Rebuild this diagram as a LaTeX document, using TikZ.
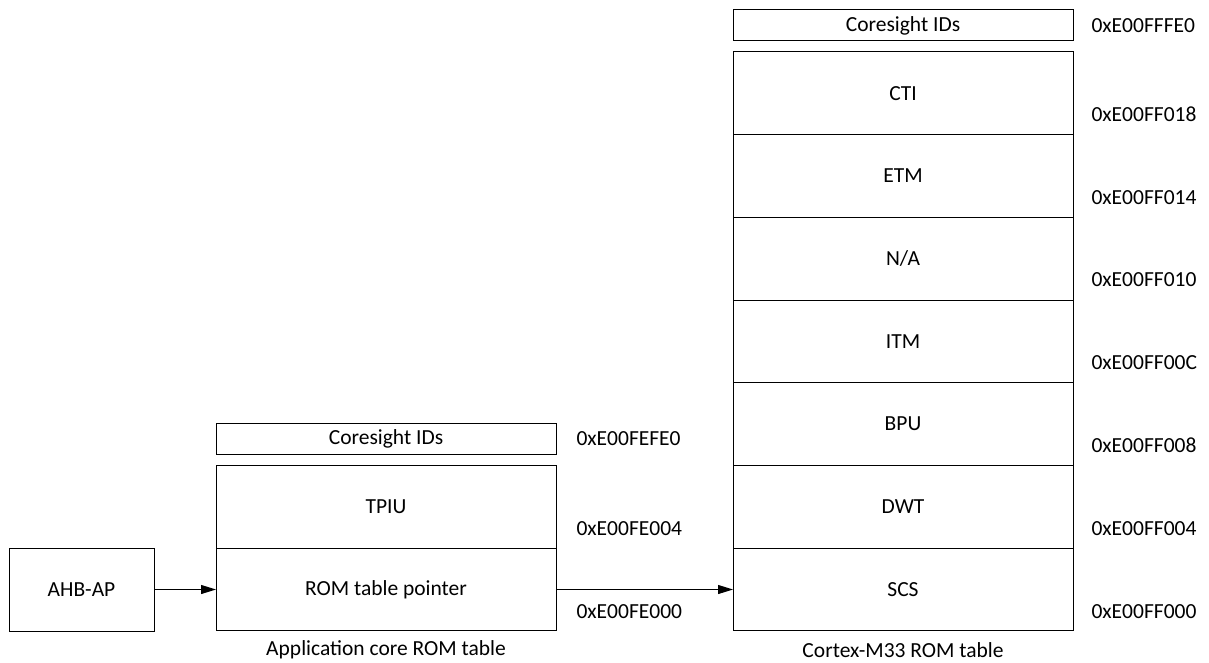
\documentclass[tikz,border=0pt]{standalone}
\usepackage{fontspec}
\setmainfont{Carlito}
\usetikzlibrary{arrows.meta,positioning}

\begin{document}
\begin{tikzpicture}[
  x=1pt, y=-1pt, line width=1pt,
  font=\fontsize{21.5}{26}\selectfont, >={Triangle[length=15pt,width=9pt]},
  slot/.style={draw,outer sep=0pt,inner sep=0pt,minimum width=340pt,minimum height=82.7pt},
  ids/.style={draw,outer sep=0pt,inner sep=0pt,minimum width=340pt,minimum height=31pt},
  addr/.style={anchor=west,inner sep=0pt}
]
\useasboundingbox (0,0) rectangle (1209,663);
% access port
\node[draw,outer sep=0pt,minimum width=145pt,minimum height=83pt] (ahb) at (81.5,589.5) {AHB-AP};
% application core ROM table
\node[slot] (rom) at (386,589.5) {ROM table pointer};
\node[slot,above=0pt of rom] (tpiu) {TPIU};
\node[ids,above=11pt of tpiu] (appids) {Coresight IDs};
\node[addr] (arom) at ([xshift=20pt,yshift=19pt]rom.south east) {0xE00FE000};
\node[addr] (atpiu) at ([xshift=20pt,yshift=20pt]tpiu.south east) {0xE00FE004};
\node[addr] (aappids) at ([xshift=20pt]appids.east) {0xE00FEFE0};
\node (appcap) at ([yshift=-19pt]rom.south) {Application core ROM table};
% Cortex-M33 ROM table
\node[slot] (scs) at (903,589.5) {SCS};
\node[slot,above=0pt of scs] (dwt) {DWT};
\node[slot,above=0pt of dwt] (bpu) {BPU};
\node[slot,above=0pt of bpu] (itm) {ITM};
\node[slot,above=0pt of itm] (na) {N/A};
\node[slot,above=0pt of na] (etm) {ETM};
\node[slot,above=0pt of etm] (cti) {CTI};
\node[ids,above=11pt of cti] (m33ids) {Coresight IDs};
\node[addr] (ascs) at ([xshift=18pt,yshift=19pt]scs.south east) {0xE00FF000};
\node[addr] (adwt) at ([xshift=18pt,yshift=20pt]dwt.south east) {0xE00FF004};
\node[addr] (abpu) at ([xshift=18pt,yshift=20pt]bpu.south east) {0xE00FF008};
\node[addr] (aitm) at ([xshift=18pt,yshift=20pt]itm.south east) {0xE00FF00C};
\node[addr] (ana) at ([xshift=18pt,yshift=20pt]na.south east) {0xE00FF010};
\node[addr] (aetm) at ([xshift=18pt,yshift=20pt]etm.south east) {0xE00FF014};
\node[addr] (acti) at ([xshift=18pt,yshift=20pt]cti.south east) {0xE00FF018};
\node[addr] (am33ids) at ([xshift=18pt]m33ids.east) {0xE00FFFE0};
\node (m33cap) at ([yshift=-19pt]scs.south) {Cortex-M33 ROM table};
% pointers
\draw[->] (ahb.east) -- (rom.west);
\draw[->] (rom.east) -- (scs.west);
\end{tikzpicture}
\end{document}
